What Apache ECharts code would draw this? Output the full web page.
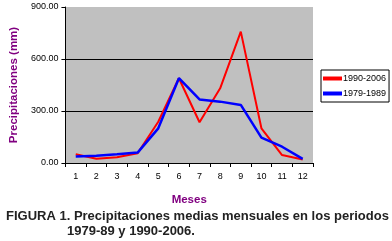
<!DOCTYPE html>
<html>
<head>
<meta charset="utf-8">
<script src="https://cdn.jsdelivr.net/npm/echarts@6/dist/echarts.min.js"></script>
<style>
  html, body { margin: 0; padding: 0; background: #fff; }
  #main { width: 392px; height: 241px; }
</style>
</head>
<body>
<div id="main"></div>
<script>
const months = ['1', '2', '3', '4', '5', '6', '7', '8', '9', '10', '11', '12'];
const rain9006 = [50, 25, 33, 56, 238, 489, 235, 431, 758, 200, 46, 20];
const rain7989 = [38, 42, 50, 60, 200, 489, 367, 354, 335, 146, 94, 24];
const yTicks = [0, 300, 600, 900];

let myChart = echarts.init(document.getElementById('main'));

myChart.setOption({
  animation: false,
  textStyle: { fontFamily: 'Liberation Sans, Arial, sans-serif' },
  grid: {
    left: 58, right: 79, top: 7, height: 156,
    show: true, backgroundColor: '#c0c0c0', borderWidth: 0
  },
  legend: {
    left: 321, top: 70,
    orient: 'vertical',
    backgroundColor: '#fff',
    borderColor: '#000', borderWidth: 1, borderRadius: 0,
    padding: [4, 3, 4, 2],
    itemGap: 6,
    itemWidth: 19, itemHeight: 4,
    icon: 'rect',
    textStyle: { fontSize: 9, color: '#000', padding: [0, 0, 0, -4] },
    data: ['1990-2006', '1979-1989']
  },
  xAxis: {
    type: 'category',
    data: months,
    boundaryGap: true,
    name: 'Meses',
    nameLocation: 'middle',
    nameGap: 31,
    nameTextStyle: { color: '#800080', fontSize: 11.5, fontWeight: 'bold' },
    axisLine: { lineStyle: { color: '#000', width: 1 } },
    axisTick: { show: true, length: 4, lineStyle: { color: '#000' } },
    axisLabel: { color: '#000', fontSize: 9, margin: 9 }
  },
  yAxis: {
    type: 'value',
    min: 0, max: 900, interval: 300,
    name: 'Precipitaciones (mm)',
    nameLocation: 'middle',
    nameGap: 43,
    nameTextStyle: { color: '#800080', fontSize: 11.5, fontWeight: 'bold' },
    axisLine: { show: true, lineStyle: { color: '#000', width: 1 } },
    axisTick: { show: true, length: 4, lineStyle: { color: '#000' } },
    axisLabel: {
      color: '#000', fontSize: 9, margin: 7,
      formatter: v => yTicks.includes(v) ? v.toFixed(2) : ''
    },
    splitLine: {
      show: true,
      lineStyle: { color: '#000', width: 1 },
      showMinLine: false, showMaxLine: false
    }
  },
  series: [
    {
      name: '1990-2006', type: 'line', data: rain9006,
      color: '#ff0000', symbol: 'none',
      lineStyle: { width: 2, color: '#ff0000' }
    },
    {
      name: '1979-1989', type: 'line', data: rain7989,
      color: '#0000ff', symbol: 'none',
      lineStyle: { width: 2.5, color: '#0000ff' }
    }
  ],
  graphic: [
    {
      type: 'text', left: 6, top: 210,
      style: {
        text: 'FIGURA 1. Precipitaciones medias mensuales en los periodos',
        font: 'bold 13px Liberation Sans, Arial, sans-serif',
        fill: '#222'
      }
    },
    {
      type: 'text', left: 67, top: 225,
      style: {
        text: '1979-89 y 1990-2006.',
        font: 'bold 13px Liberation Sans, Arial, sans-serif',
        fill: '#222'
      }
    }
  ]
});

window.addEventListener('resize', () => { myChart.resize(); });
</script>
</body>
</html>
